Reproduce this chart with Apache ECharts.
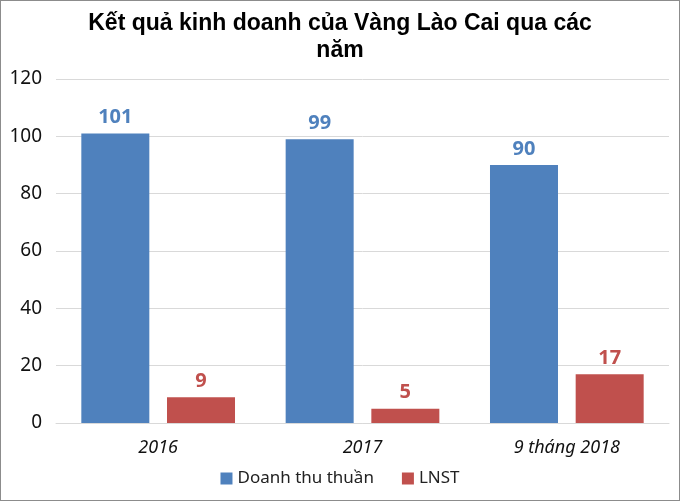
<!DOCTYPE html>
<html>
<head>
<meta charset="utf-8">
<script src="https://cdn.jsdelivr.net/npm/echarts@6/dist/echarts.min.js"></script>
<style>
html, body { margin: 0; padding: 0; background: #fff; }
#chart { width: 680px; height: 501px; box-sizing: border-box; border: 1px solid #8c8c8c; }
</style>
</head>
<body>
<div id="chart"></div>
<script>
var categories = ['2016', '2017', '9 tháng 2018'];
var revenue = [101, 99, 90];
var profit = [9, 5, 17];
var yTicks = [0, 20, 40, 60, 80, 100, 120];

var chart = echarts.init(document.getElementById('chart'));
var option = {
	animation: false,
	title: {
		text: 'Kết quả kinh doanh của Vàng Lào Cai qua các\nnăm',
		left: 'center',
		top: 4,
		textStyle: {
			fontFamily: 'Liberation Sans',
			fontSize: 23,
			fontWeight: 'bold',
			color: '#000',
			lineHeight: 27
		}
	},
	legend: {
		bottom: 8,
		left: 'center',
		itemWidth: 12,
		itemHeight: 12,
		itemGap: 28,
		icon: 'rect',
		textStyle: {
			fontFamily: 'Noto Sans',
			fontSize: 17,
			color: '#222'
		},
		data: ['Doanh thu thuần', 'LNST']
	},
	grid: {
		left: 55,
		right: 10,
		top: 78,
		bottom: 77
	},
	xAxis: {
		type: 'category',
		data: categories,
		axisTick: { show: false },
		axisLine: { lineStyle: { color: '#d9d9d9', width: 1 } },
		axisLabel: {
			fontFamily: 'Noto Sans',
			fontSize: 18,
			fontStyle: 'italic',
			color: '#111',
			margin: 16
		}
	},
	yAxis: {
		type: 'value',
		min: yTicks[0],
		max: yTicks[yTicks.length - 1],
		interval: 20,
		axisLine: { show: false },
		axisTick: { show: false },
		splitLine: { lineStyle: { color: '#d9d9d9' } },
		axisLabel: {
			fontFamily: 'Noto Sans',
			fontSize: 19,
			color: '#111',
			margin: 14
		}
	},
	series: [{
		name: 'Doanh thu thuần',
		type: 'bar',
		data: revenue,
		barWidth: 68,
		barGap: '26%',
		itemStyle: { color: '#4f81bd' },
		label: {
			show: true,
			position: 'top',
			distance: 6,
			fontFamily: 'Noto Sans',
			fontSize: 20,
			fontWeight: 'bold',
			color: '#4f81bd'
		}
	}, {
		name: 'LNST',
		type: 'bar',
		data: profit,
		barWidth: 68,
		itemStyle: { color: '#c0504d' },
		label: {
			show: true,
			position: 'top',
			distance: 6,
			fontFamily: 'Noto Sans',
			fontSize: 20,
			fontWeight: 'bold',
			color: '#c0504d'
		}
	}]
};
chart.setOption(option);
</script>
</body>
</html>
